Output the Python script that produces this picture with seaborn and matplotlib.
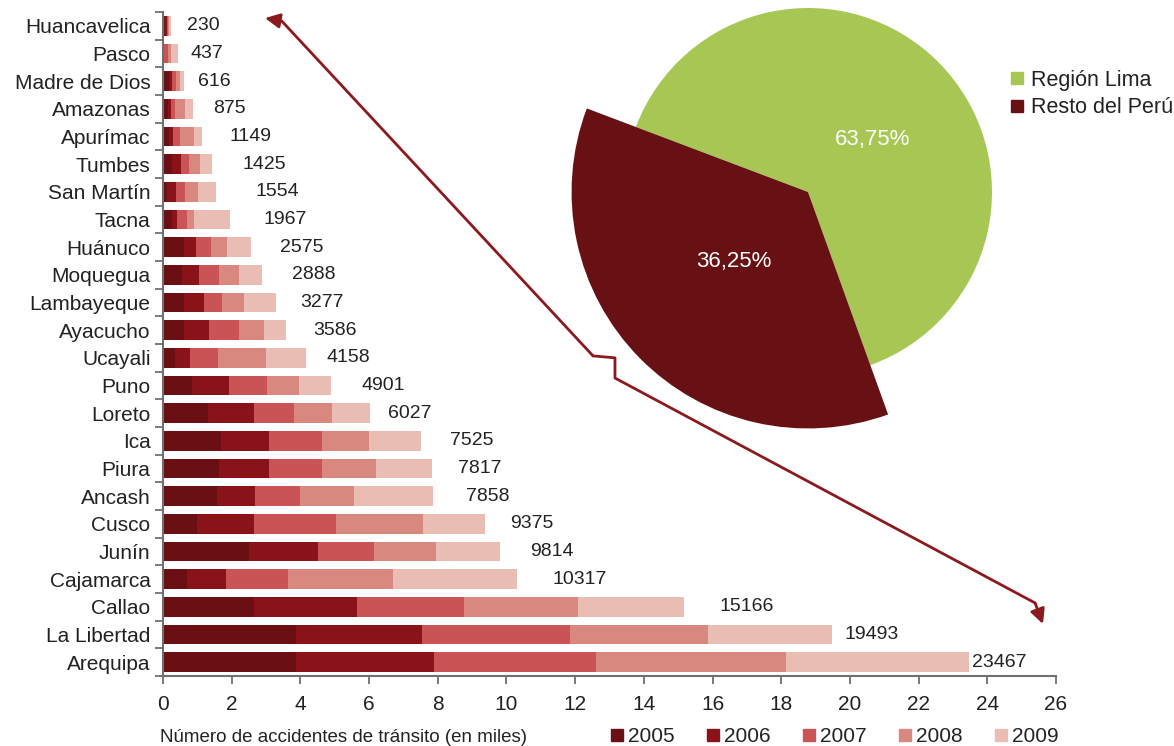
import numpy as np
import pandas as pd
import matplotlib
matplotlib.use('Agg')
import matplotlib.pyplot as plt
from matplotlib.lines import Line2D
import seaborn as sns

# Datos (miles de accidentes por año)
regiones = ['Huancavelica', 'Pasco', 'Madre de Dios', 'Amazonas', 'Apurímac', 'Tumbes',
            'San Martín', 'Tacna', 'Huánuco', 'Moquegua', 'Lambayeque', 'Ayacucho',
            'Ucayali', 'Puno', 'Loreto', 'Ica', 'Piura', 'Ancash', 'Cusco', 'Junín',
            'Cajamarca', 'Callao', 'La Libertad', 'Arequipa']
anios = ['2005', '2006', '2007', '2008', '2009']
v2005 = [0.06, 0.02, 0.17, 0.16, 0.17, 0.25, 0.11, 0.25, 0.60, 0.55, 0.60, 0.60,
         0.34, 0.84, 1.31, 1.69, 1.62, 1.57, 0.99, 2.51, 0.71, 2.66, 3.86, 3.86]
v2006 = [0.05, 0.02, 0.09, 0.06, 0.12, 0.26, 0.26, 0.15, 0.36, 0.50, 0.59, 0.73,
         0.44, 1.08, 1.34, 1.39, 1.47, 1.10, 1.66, 2.00, 1.11, 2.98, 3.67, 4.03]
v2007 = [0.04, 0.10, 0.12, 0.12, 0.20, 0.26, 0.26, 0.29, 0.44, 0.58, 0.53, 0.88,
         0.82, 1.10, 1.16, 1.54, 1.53, 1.32, 2.39, 1.63, 1.83, 3.13, 4.32, 4.71]
v2008 = [0.03, 0.08, 0.12, 0.29, 0.41, 0.32, 0.38, 0.20, 0.46, 0.58, 0.64, 0.73,
         1.40, 0.94, 1.11, 1.37, 1.59, 1.57, 2.53, 1.80, 3.05, 3.31, 4.02, 5.53]
v2009 = [0.05, 0.21, 0.12, 0.24, 0.25, 0.33, 0.54, 1.07, 0.71, 0.67, 0.92, 0.65,
         1.16, 0.94, 1.11, 1.53, 1.61, 2.30, 1.81, 1.87, 3.62, 3.09, 3.62, 5.34]
totales = [230, 437, 616, 875, 1149, 1425, 1554, 1967, 2575, 2888, 3277, 3586,
           4158, 4901, 6027, 7525, 7817, 7858, 9375, 9814, 10317, 15166, 19493, 23467]

pie_etiquetas = ['Región Lima', 'Resto del Perú']
pie_valores = [63.75, 36.25]

# Estilo
colores = ['#6a1015', '#8a131a', '#c95355', '#d9887f', '#eabdb4']
pie_colores = ['#a8c653', '#681115']
color_flecha = '#8b1a1f'
color_texto = '#222222'
separacion_etiqueta = [0.47, 0.35, 0.40, 0.59, 0.8, 0.88, 1.13, 0.97, 0.83, 0.87, 0.72, 0.78,
                       0.61, 0.89, 0.52, 0.83, 0.77, 0.96, 0.72, 0.87, 1.03, 1.04, 0.36, 0.08]

sns.set_style('ticks')
plt.rcParams['font.family'] = ['Liberation Sans', 'DejaVu Sans']

W, H = 1174, 746
fig = plt.figure(figsize=(W / 100, H / 100), dpi=100)
ax = fig.add_axes([163 / W, 1 - 676 / H, (1056 - 163) / W, (676 - 12) / H])

df = pd.DataFrame({'Region': regiones, '2005': v2005, '2006': v2006,
                   '2007': v2007, '2008': v2008, '2009': v2009})
acum = df[anios].cumsum(axis=1)

# barras apiladas: se dibuja el acumulado de mayor a menor
for i in range(len(anios) - 1, -1, -1):
    sns.barplot(x=acum[anios[i]], y=df['Region'], orient='h', color=colores[i],
                width=0.7, errorbar=None, saturation=1, linewidth=0,
                edgecolor='none', ax=ax, zorder=2)

for i, t in enumerate(totales):
    ax.text(t / 1000 + separacion_etiqueta[i], i, str(t), ha='left', va='center',
            fontsize=14, color=color_texto)

ax.set_xlim(0, 26)
ax.set_ylim(len(regiones) - 0.5, -0.5)
ax.set_xticks(np.arange(0, 27, 2))
ax.set_xticklabels([str(v) for v in range(0, 27, 2)], fontsize=15, color=color_texto)
ax.set_yticks(range(len(regiones)))
ax.set_yticklabels(regiones, fontsize=15, color=color_texto)
ax.set_yticks(np.arange(-0.5, len(regiones), 1), minor=True)
ax.tick_params(axis='y', which='major', length=0, pad=9)
ax.tick_params(axis='y', which='minor', length=6, width=1.3, color='#707070')
ax.tick_params(axis='x', length=6, width=1.3, color='#707070', pad=8)
ax.set_ylabel('')
ax.set_xlabel('Número de accidentes de tránsito (en miles)', fontsize=13.5,
              color=color_texto)
ax.xaxis.set_label_coords(-0.0034, -0.092)
ax.xaxis.label.set_ha('left')
ax.xaxis.label.set_va('center')
sns.despine(ax=ax)
for s in ['left', 'bottom']:
    ax.spines[s].set_color('#707070')
    ax.spines[s].set_linewidth(1.5)

# flechas
ax.plot([12.52, 13.16, 13.16, 25.39], [11.93, 12.00, 12.73, 20.86],
        color=color_flecha, lw=2, clip_on=False, zorder=5)
ax.plot([12.52, 3.46], [11.93, -0.17], color=color_flecha, lw=2, clip_on=False, zorder=5)
ax.annotate('', xy=(2.97, -0.28), xytext=(3.46, -0.17), annotation_clip=False,
            arrowprops=dict(arrowstyle='-|>', color=color_flecha, lw=2,
                            mutation_scale=22, shrinkA=0, shrinkB=0))
ax.annotate('', xy=(25.62, 21.62), xytext=(25.39, 20.86), annotation_clip=False,
            arrowprops=dict(arrowstyle='-|>', color=color_flecha, lw=2,
                            mutation_scale=22, shrinkA=0, shrinkB=0))

# leyenda años
manijas = [Line2D([], [], marker='s', ls='', markersize=8, color=c) for c in colores]
fig.legend(manijas, anios, loc='center left', bbox_to_anchor=(607 / W, 1 - 737 / H),
           ncol=5, frameon=False, handletextpad=0.0, columnspacing=1.37,
           handlelength=1.0, borderpad=0, borderaxespad=0,
           prop={'size': 15}, labelcolor=color_texto)

# torta
ax_pie = fig.add_axes([560 / W, 1 - 496 / H, 496 / W, 496 / H])
ax_pie.patch.set_alpha(0)
cuñas, _, autotextos = ax_pie.pie(
    pie_valores, colors=pie_colores, startangle=-70.2, counterclock=True,
    autopct=lambda p: f'{p:.2f}%'.replace('.', ','),
    wedgeprops={'linewidth': 0, 'edgecolor': 'none'},
    textprops={'color': 'white', 'fontsize': 16})
cuñas[1].set_radius(1.285)
autotextos[0].set_position((0.353, 0.283))
autotextos[1].set_position((-0.405, -0.380))
for a in autotextos:
    a.set_ha('center')
    a.set_va('center')
ax_pie.set_aspect('auto')
ax_pie.set_xlim((560 - 808) / 184, (1056 - 808) / 184)
ax_pie.set_ylim(-(496 - 192) / 184, 192 / 184)
ax_pie.axis('off')

manijas_pie = [Line2D([], [], marker='s', ls='', markersize=8, color=c) for c in pie_colores]
fig.legend(manijas_pie, pie_etiquetas, loc='upper left', bbox_to_anchor=(1006 / W, 1 - 70 / H),
           frameon=False, handletextpad=0.15, handlelength=1.0, labelspacing=0.3,
           borderpad=0, borderaxespad=0, prop={'size': 15.5}, labelcolor=color_texto)

fig.savefig('out.png', dpi=100)
